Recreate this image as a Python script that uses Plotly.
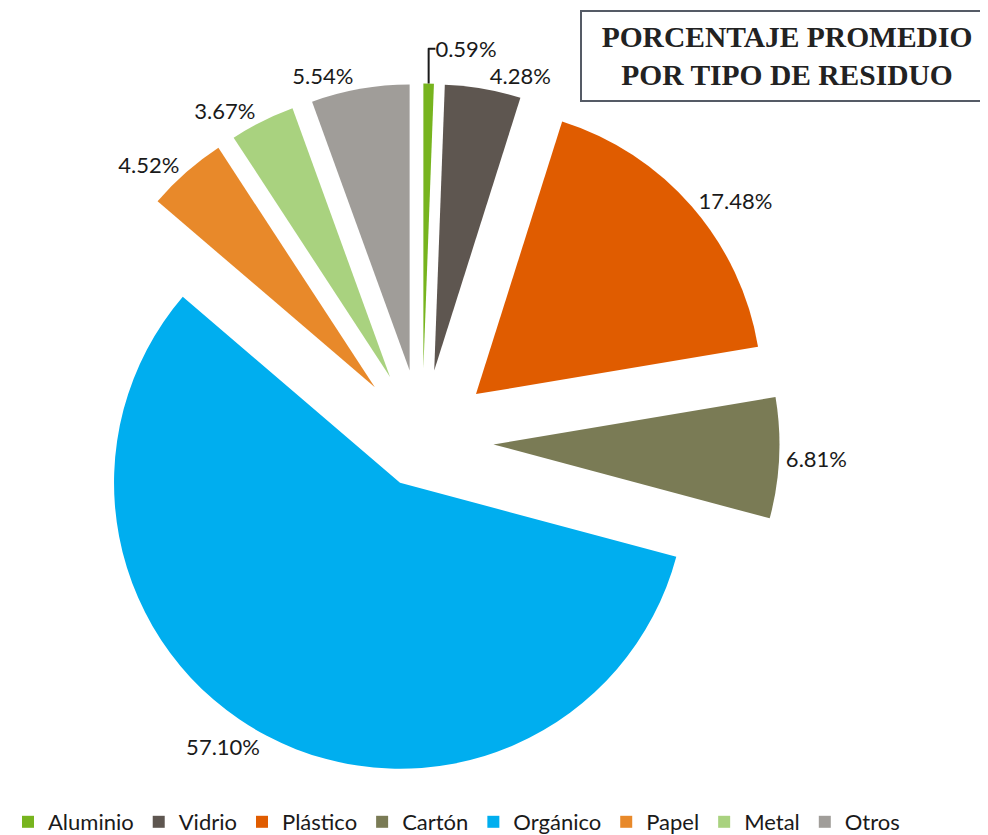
import plotly.graph_objects as go

categorias = ["Aluminio", "Vidrio", "Plástico", "Cartón", "Orgánico", "Papel", "Metal", "Otros"]
porcentajes = [0.59, 4.28, 17.48, 6.81, 57.10, 4.52, 3.67, 5.54]
colores = ["#77B41E", "#5E5650", "#E05C00", "#7A7B55", "#00AEEF", "#E8892A", "#A9D27F", "#A09D99"]
separacion = [0.25, 0.25, 0.25, 0.25, 0.165, 0.25, 0.25, 0.25]
titulo = "PORCENTAJE PROMEDIO<br>POR TIPO DE RESIDUO"

etiquetas = [f"{v:.2f}%" for v in porcentajes]

fig = go.Figure(go.Pie(
    labels=categorias,
    values=porcentajes,
    text=etiquetas,
    textinfo="text",
    textposition="outside",
    hoverinfo="label+text",
    sort=False,
    direction="clockwise",
    rotation=0,
    pull=separacion,
    domain=dict(x=[0.0572, 0.7809], y=[0.0062, 0.9924]),
    marker=dict(colors=colores, line=dict(width=0)),
    outsidetextfont=dict(family="Lato, Open Sans, sans-serif", size=22, color="#1a1a1a"),
    showlegend=True,
))

fig.update_layout(
    width=988, height=835,
    margin=dict(l=0, r=0, t=70, b=40, autoexpand=False),
    paper_bgcolor="white",
    plot_bgcolor="white",
    legend=dict(
        orientation="h", x=0.0, xref="paper", y=0.0, yref="container",
        xanchor="left", yanchor="bottom",
        font=dict(family="Lato, Open Sans, sans-serif", size=22, color="#1a1a1a"),
        itemsizing="constant", traceorder="normal",
    ),
    annotations=[dict(
        text=f"<b>{titulo}</b>",
        xref="paper", yref="paper", x=0.788, y=1.031,
        xanchor="center", yanchor="middle",
        showarrow=False,
        font=dict(family="Liberation Serif, serif", size=29.5, color="#222222"),
        bordercolor="#555B66", borderwidth=2, borderpad=6,
        width=398, height=76, bgcolor="white",
    )],
)

fig.write_html("out.html")
